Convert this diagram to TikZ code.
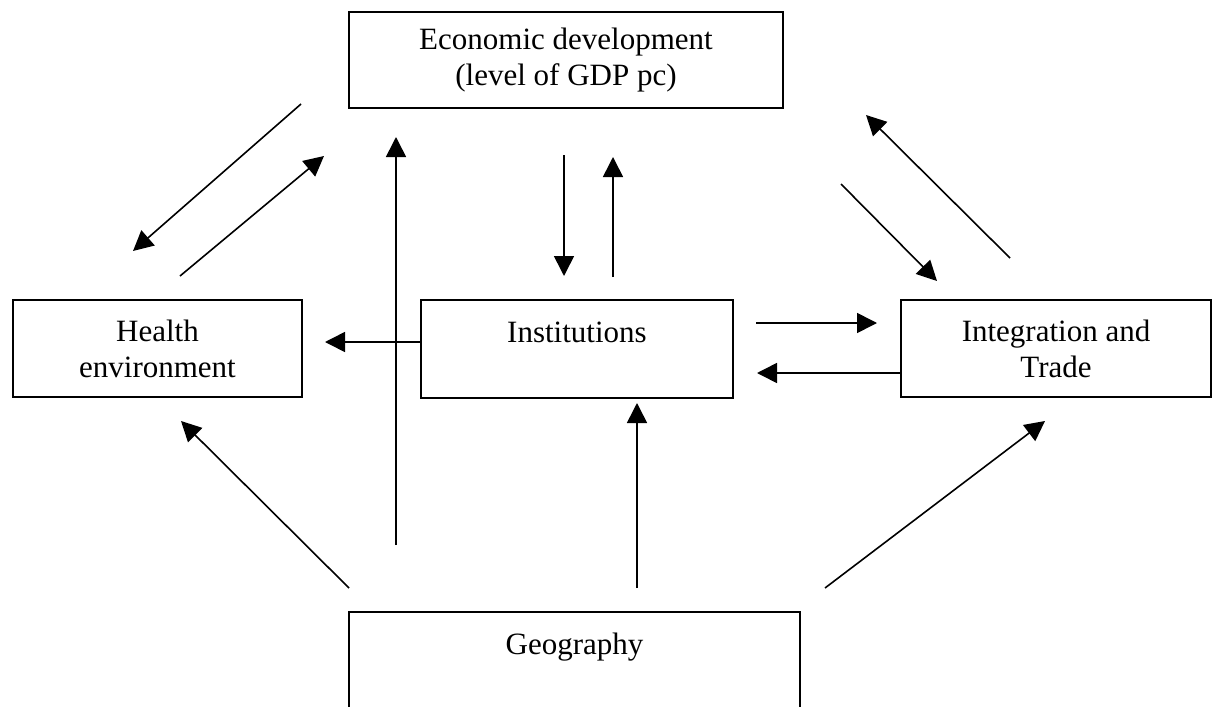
\documentclass[tikz,border=0pt]{standalone}
\usepackage{fontspec}
\setmainfont{Liberation Serif}
\usetikzlibrary{arrows.meta,calc}

\begin{document}
\begin{tikzpicture}[
  x=1pt, y=-1pt,
  every node/.style={draw, line width=1.8pt, align=center, inner sep=0pt, outer sep=0pt, font=\fontsize{31}{36}\selectfont},
  topbox/.style={anchor=north, text height=42pt, text depth=56pt},
  arrow/.style={-{Triangle[length=20pt,width=20pt]}, line width=1.6pt}
]
\useasboundingbox (0,0) rectangle (1216,707);
\node[minimum width=434pt, minimum height=96pt] (econ) at (566,60) {Economic development\\(level of GDP pc)};
\node[minimum width=289pt, minimum height=97pt] (health) at (157.5,348.5) {Health\\environment};
\node[topbox, minimum width=312pt] (inst) at (577,300) {Institutions};
\node[minimum width=310pt, minimum height=97pt] (integ) at (1056,348.5) {Integration and\\Trade};
\node[topbox, minimum width=451pt, text depth=80pt] (geo) at (574.5,612) {Geography};
% links to economic development
\draw[arrow] ($(econ.south west)+(-48,-4)$) -- ($(health.north)+(-24.5,-49)$);
\draw[arrow] ($(health.north)+(22.5,-24)$) -- ($(econ.south west)+(-25,48)$);
\draw[arrow] ($(econ.south)+(-2,47)$) -- ($(inst.north)+(-13,-24)$);
\draw[arrow] ($(inst.north)+(36,-23)$) -- ($(econ.south)+(47,49)$);
\draw[arrow] ($(integ.north)+(-46,-42)$) -- ($(econ.south east)+(83,7)$);
\draw[arrow] ($(econ.south east)+(58,76)$) -- ($(integ.north)+(-119,-19)$);
% middle row
\draw[arrow] ($(inst.north west)+(0,42)$) -- ($(health.north east)+(23,42)$);
\draw[arrow] ($(inst.north east)+(23,23)$) -- ($(integ.north west)+(-24,23)$);
\draw[arrow] ($(integ.north west)+(0,73)$) -- ($(inst.north east)+(24,73)$);
% from geography
\draw[arrow] ($(geo.north west)+(47,-67)$) -- ($(econ.south west)+(47,29)$);
\draw[arrow] ($(geo.north west)+(0,-24)$) -- ($(health.south)+(23.5,24)$);
\draw[arrow] ($(geo.north)+(62.5,-24)$) -- ($(inst.south)+(60,5)$);
\draw[arrow] ($(geo.north east)+(25,-24)$) -- ($(integ.south)+(-11,24)$);
\end{tikzpicture}
\end{document}
